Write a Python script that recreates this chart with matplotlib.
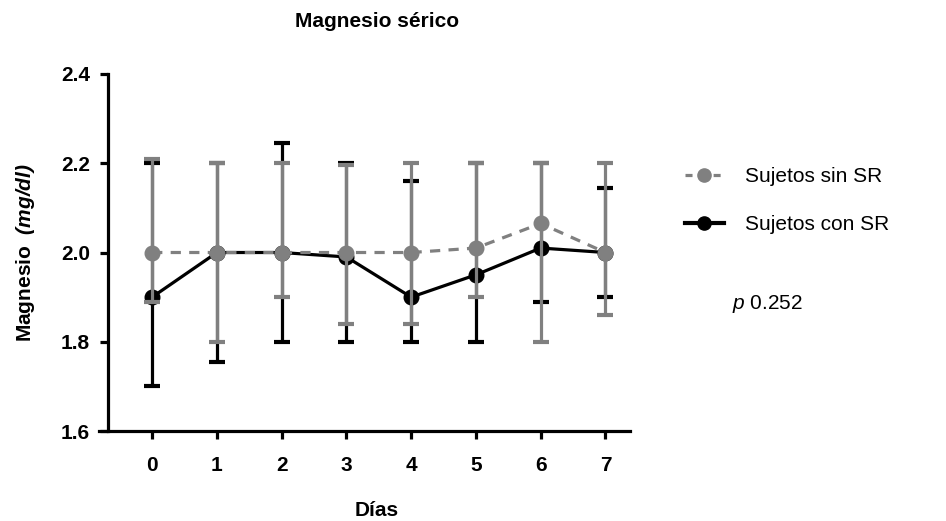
import matplotlib
matplotlib.use("Agg")
import matplotlib.pyplot as plt
from matplotlib.lines import Line2D

plt.rcParams['font.family'] = ['Liberation Sans', 'DejaVu Sans']
plt.rcParams['mathtext.fontset'] = 'custom'
plt.rcParams['mathtext.rm'] = 'Liberation Sans'
plt.rcParams['mathtext.it'] = 'Liberation Sans:italic'
plt.rcParams['mathtext.bf'] = 'Liberation Sans:bold'
plt.rcParams['mathtext.bfit'] = 'Liberation Sans:italic:bold'

days = [0, 1, 2, 3, 4, 5, 6, 7]
day_labels = ["0", "1", "2", "3", "4", "5", "6", "7"]

sin_mean = [2.00, 2.00, 2.00, 2.00, 2.00, 2.01, 2.065, 2.00]
sin_upper = [2.21, 2.20, 2.20, 2.195, 2.20, 2.20, 2.20, 2.20]
sin_lower = [1.89, 1.80, 1.90, 1.84, 1.84, 1.90, 1.80, 1.86]

con_mean = [1.90, 2.00, 2.00, 1.99, 1.90, 1.95, 2.01, 2.00]
con_upper = [2.20, 2.20, 2.245, 2.20, 2.16, 2.20, 2.20, 2.145]
con_lower = [1.70, 1.755, 1.80, 1.80, 1.80, 1.80, 1.89, 1.90]

y_ticks = [1.6, 1.8, 2.0, 2.2, 2.4]
y_tick_labels = ["1.6", "1.8", "2.0", "2.2", "2.4"]

GRAY = "#808080"
FS = 15

fig = plt.figure(figsize=(9.46, 5.21), dpi=100)
ax = fig.add_axes([0.1047, 0.1727, 0.666 - 0.1047, 0.858 - 0.1727])

for s in ["top", "right"]:
    ax.spines[s].set_visible(False)
ax.spines["left"].set_position(("data", -0.68))
ax.spines["left"].set_linewidth(2.3)
ax.spines["bottom"].set_linewidth(2.3)

con_err = [[m - l for m, l in zip(con_mean, con_lower)],
           [u - m for m, u in zip(con_mean, con_upper)]]
sin_err = [[m - l for m, l in zip(sin_mean, sin_lower)],
           [u - m for m, u in zip(sin_mean, sin_upper)]]

ax.errorbar(days, con_mean, yerr=con_err, color="black", lw=2.3,
            marker="o", ms=10.5, elinewidth=2.3, capsize=5.5, capthick=3,
            zorder=2, clip_on=False)
ax.errorbar(days, sin_mean, yerr=sin_err, color=GRAY, lw=2.3, ls=(0, (3.2, 2.6)),
            marker="o", ms=10.5, elinewidth=2.3, capsize=5.5, capthick=3,
            zorder=3, clip_on=False)

ax.set_xlim(-0.82, 7.38)
ax.set_ylim(1.6, 2.4)
ax.set_xticks(days)
ax.set_xticklabels(day_labels, fontweight="bold", fontsize=FS)
ax.set_yticks(y_ticks)
ax.set_yticklabels(y_tick_labels, fontweight="bold", fontsize=FS)

ax.tick_params(direction="out", length=6, width=2.3)
ax.tick_params(axis="y", pad=7)
ax.tick_params(axis="x", pad=12)

ax.set_xlabel("Días", fontweight="bold", fontsize=FS, labelpad=19)
ax.xaxis.label.set_x(0.5235)
ax.set_ylabel(r"Magnesio  $\mathbfit{(mg/dl)}$", fontweight="bold", fontsize=FS, labelpad=17)
ax.set_title("Magnesio sérico", fontweight="bold", fontsize=FS, pad=34, x=0.5235)

handles = [
    Line2D([], [], color=GRAY, lw=2.3, ls=(0, (2.2, 2.2)), marker="o", ms=9.5),
    Line2D([], [], color="black", lw=3.0, marker="o", ms=9.5),
]
fig.legend(handles, ["Sujetos sin SR", "Sujetos con SR"], loc="upper left",
           bbox_to_anchor=(685 / 946, 1 - 167 / 521), frameon=False, fontsize=FS,
           handlelength=1.85, labelspacing=1.4, handletextpad=1.05, borderpad=0,
           borderaxespad=0)

fig.text(732 / 946, 1 - 304 / 521, r"$\it{p}$ 0.252", fontsize=FS, va="center")

fig.savefig("out.png", dpi=100)
